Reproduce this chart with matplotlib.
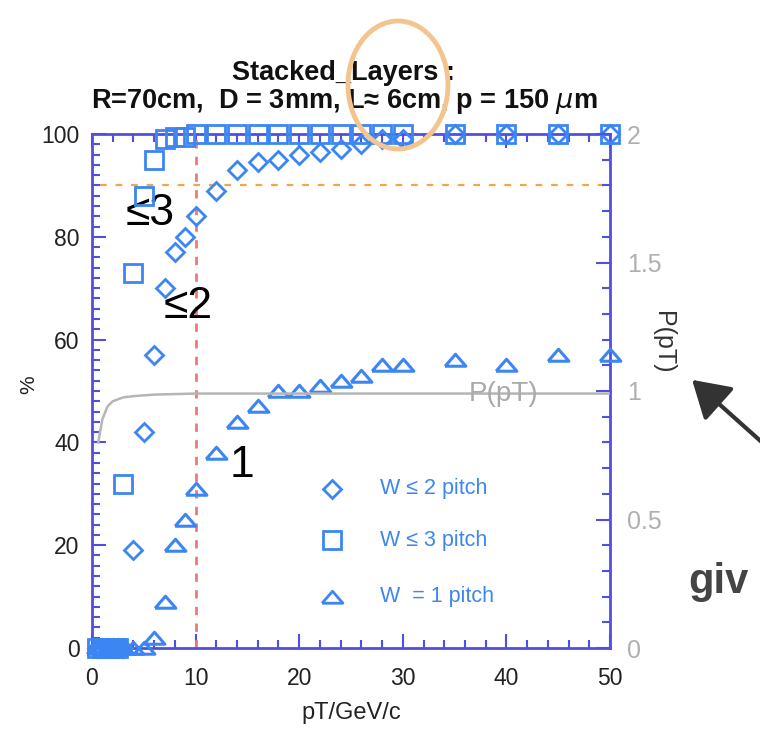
import matplotlib
matplotlib.use("Agg")
import matplotlib.pyplot as plt
from matplotlib.patches import Ellipse, FancyArrowPatch
from matplotlib.ticker import MultipleLocator

plt.rcParams['font.family'] = ['Liberation Sans', 'DejaVu Sans']

# ---- data ----
pt = [0.5, 1, 1.5, 2, 2.5, 3, 4, 5, 6, 7, 8, 9, 10, 12, 14, 16, 18, 20,
      22, 24, 26, 28, 30, 35, 40, 45, 50]
w_le2 = [0, 0, 0, 0, 0, 0, 19, 42, 57, 70, 77, 80, 84, 89, 93, 94.5, 95, 96,
         96.5, 97, 98, 99, 99, 100, 100, 100, 100]
w_le3 = [0, 0, 0, 0, 0, 32, 73, 88, 95, 99, 99.5, 99.5, 100, 100, 100, 100, 100, 100,
         100, 100, 100, 100, 100, 100, 100, 100, 100]
w_eq1 = [0, 0, 0, 0, 0, 0, 0, 0, 2, 9, 20, 25, 31, 38, 44, 47, 50, 50,
         51, 52, 53, 55, 55, 56, 55, 57, 57]
p_x = [0.6, 1.0, 1.5, 2.0, 3.0, 4.0, 6.0, 10.0, 20.0, 50.0]
p_val = [0.80, 0.89, 0.94, 0.96, 0.975, 0.98, 0.986, 0.99, 0.99, 0.99]
cut_pt = 10
cut_eff = 90

blue = '#3b86f2'
spine = '#4f4fe0'

fig = plt.figure(figsize=(7.6, 7.32), dpi=100)
ax = fig.add_axes([92/760, 1-648/732, (610-92)/760, (648-134)/732])
ax.set_xlim(0, 50)
ax.set_ylim(0, 100)

tri = [(-1, -0.55), (1, -0.55), (0, 0.6), (-1, -0.55)]
ax.plot(pt, w_le2, linestyle='none', marker='D', ms=9.5, mfc='none', mec=blue, mew=2, clip_on=False, zorder=5)
ax.plot(pt, w_le3, linestyle='none', marker='s', ms=13.5, mfc='none', mec=blue, mew=2, clip_on=False, zorder=5)
ax.plot(pt, w_eq1, linestyle='none', marker=tri, ms=15, mfc='none', mec=blue, mew=2.2, clip_on=False, zorder=5)

ax.axvline(cut_pt, color='#ec7a7a', ls=(0, (3, 3)), lw=2, zorder=2)
ax.plot([0.8, 49.5], [cut_eff, cut_eff], color='#f3a54a', ls=(0, (3, 4)), lw=1.6, zorder=2)

for s in ax.spines.values():
    s.set_color(spine)
    s.set_linewidth(2)

ax.xaxis.set_major_locator(MultipleLocator(10))
ax.xaxis.set_minor_locator(MultipleLocator(2))
ax.yaxis.set_major_locator(MultipleLocator(20))
ax.yaxis.set_minor_locator(MultipleLocator(2))
ax.tick_params(which='both', direction='in', color=spine, top=True, right=False,
               labelsize=16.5, labelcolor='#222222', width=1.5)
ax.tick_params(which='major', length=10, pad=9)
ax.tick_params(which='minor', length=6)
ax.tick_params(axis='x', which='major', pad=14)
ax.set_xlabel('pT/GeV/c', fontsize=17, color='#222222')
ax.xaxis.set_label_coords(0.5, -(702-648)/514)
ax.set_ylabel('%', fontsize=15, color='#222222')
ax.yaxis.set_label_coords(-(92-38)/518, (648-385)/514)

ax2 = ax.twinx()
ax2.set_ylim(0, 2)
ax2.plot(p_x, p_val, color='#b5b5b5', lw=1.8, zorder=3)
ax2.yaxis.set_major_locator(MultipleLocator(0.5))
ax2.yaxis.set_minor_locator(MultipleLocator(0.1))
ax2.set_yticks([0, 0.5, 1, 1.5, 2])
ax2.set_yticklabels(['0', '0.5', '1', '1.5', '2'])
ax2.tick_params(which='both', direction='in', color=spine, labelsize=18, labelcolor='#b0b0b0', width=1.5)
ax2.tick_params(which='major', length=10, pad=12)
ax2.tick_params(which='minor', length=6)
for s in ax2.spines.values():
    s.set_visible(False)
ax2.set_ylabel('P(pT)', fontsize=18, color='#333333', rotation=-90, va='center')
ax2.yaxis.set_label_coords((663-92)/518, (648-342)/514)
ax2.text(39.7, 0.99, 'P(pT)', color='#aaaaaa', fontsize=20, ha='center', va='center', zorder=4)

# annotations
ax.text(5.6, 84.5, '≤3', fontsize=32, ha='center', va='center', color='black')
ax.text(9.3, 66.5, '≤2', fontsize=32, ha='center', va='center', color='black')
ax.text(14.5, 35.5, '1', fontsize=32, ha='center', va='center', color='black')

# legend
leg_items = [('D', 9.5, 'W ≤ 2 pitch', 31),
             ('s', 13.5, 'W ≤ 3 pitch', 21),
             (tri, 15, 'W  = 1 pitch', 10)]
for m, ms, lab, yy in leg_items:
    ax.plot([23.2], [yy], linestyle='none', marker=m, ms=ms, mfc='none', mec=blue, mew=2)
    ax.text(27.8, yy, lab, fontsize=15.5, color=blue, va='center', ha='left')

# title
fig.text(343/760, 1-73/732, 'Stacked_Layers :', fontsize=19.5, fontweight='bold', ha='center', va='center', color='#111111')
fig.text(344/760, 1-102/732, 'R=70cm,  D = 3mm, L≈ 6cm, p = 150 $\\mu$m', fontsize=19.5, fontweight='bold', ha='center', va='center', color='#111111')

# overlays from the slide
ell = Ellipse((398/760, 1-85/732), 100/760, 128/732, transform=fig.transFigure,
              fill=False, edgecolor='#f4c48e', lw=3.5, zorder=10)
fig.add_artist(ell)
arr = FancyArrowPatch((765/760, 1-445/732), (690/760, 1-378/732), transform=fig.transFigure,
                      arrowstyle='-|>,head_length=9,head_width=5.5', mutation_scale=2.5,
                      color='#333333', lw=3)
fig.add_artist(arr)
fig.text(688/760, 1-582/732, 'giv', fontsize=30, fontweight='bold', color='#444444', ha='left', va='center')

fig.savefig('out.png', dpi=100)
